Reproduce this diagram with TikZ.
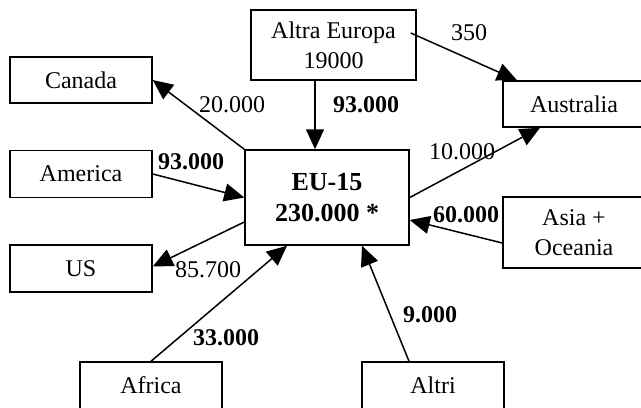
\documentclass[tikz,border=0pt]{standalone}
\usepackage{fontspec}
\setmainfont{Liberation Serif}
\usetikzlibrary{arrows.meta}
\begin{document}
\begin{tikzpicture}[x=0.5pt,y=-0.5pt,
  box/.style={draw,line width=0.75pt,inner sep=0pt,align=center,font=\fontsize{12}{15}\selectfont},
  flow/.style={line width=0.75pt,-{Triangle[length=10pt,width=9pt]}},
  lbl/.style={inner sep=0pt,font=\fontsize{12}{15}\selectfont},
  blbl/.style={inner sep=0pt,font=\fontsize{12}{15}\selectfont\bfseries}]
\useasboundingbox (0,0) rectangle (641,407);
\clip (0,0) rectangle (641,407);
% boxes
\node[box,minimum width=71pt,minimum height=23pt] (canada) at (81,80) {Canada};
\node[box,minimum width=71pt,minimum height=23.5pt] (america) at (81,174) {America};
\node[box,minimum width=71pt,minimum height=23.5pt] (us) at (81,268.5) {US};
\node[box,minimum width=82.5pt,minimum height=35pt] (ae) at (333.5,45) {Altra Europa\\19000};
\node[box,minimum width=82pt,minimum height=47.5pt,font=\fontsize{13}{15.5}\selectfont\bfseries] (eu) at (327,197.5) {EU-15\\230.000 *};
\node[box,minimum width=71pt,minimum height=23pt] (aus) at (574,104) {Australia};
\node[box,minimum width=71pt,minimum height=35.5pt] (asia) at (574,232.5) {Asia +\\Oceania};
\node[box,minimum width=71pt,minimum height=23.5pt] (africa) at (151,385.5) {Africa};
\node[box,minimum width=71pt,minimum height=23.5pt] (altri) at (433,385.5) {Altri};
% connectors
\draw[flow] (eu.north west) -- (canada.east);
\draw[flow] (america.east) -- (eu.west);
\draw[flow] ([xshift=-9.25pt]ae.south) -- ([xshift=-6pt]eu.north);
\draw[flow] ([xshift=-3pt,yshift=6pt]ae.east) -- ([xshift=-28.5pt]aus.north);
\draw[flow] (eu.east) -- ([xshift=-17pt]aus.south);
\draw[flow] ([yshift=-5.25pt]asia.west) -- ([yshift=-11.25pt]eu.east);
\draw[flow] ([yshift=-12.25pt]eu.west) -- ([yshift=1pt]us.east);
\draw[flow] (africa.north) -- ([xshift=-20pt]eu.south);
\draw[flow] ([xshift=-12pt]altri.north) -- ([xshift=17.5pt]eu.south);
% labels
\node[lbl] (l1) at (232,105) {20.000};
\node[blbl] (l2) at (191,162) {93.000};
\node[blbl] (l3) at (366,105) {93.000};
\node[lbl] (l4) at (469,33) {350};
\node[lbl] (l5) at (462,152) {10.000};
\node[blbl] (l6) at (466,215) {60.000};
\node[lbl] (l7) at (208,270) {85.700};
\node[blbl] (l8) at (226,338) {33.000};
\node[blbl] (l9) at (430,315) {9.000};
\end{tikzpicture}
\end{document}
